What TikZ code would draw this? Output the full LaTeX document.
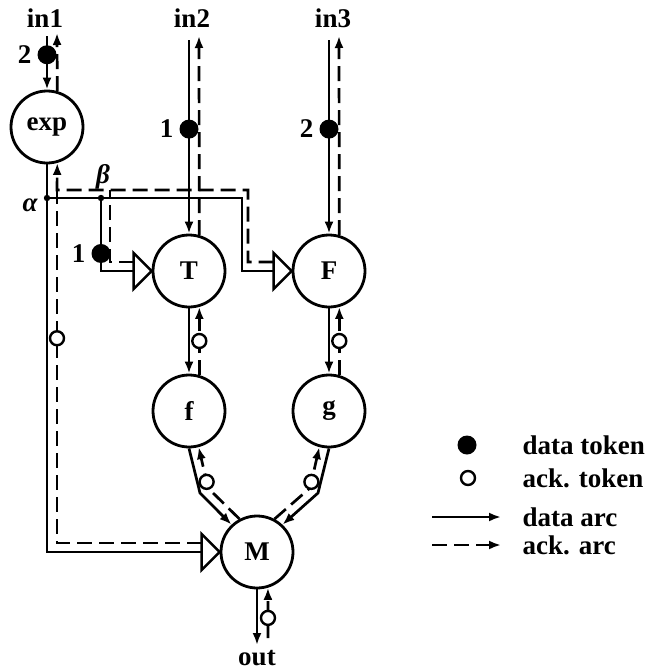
\documentclass[tikz,border=0pt]{standalone}
\usepackage{fontspec}
\setmainfont{Liberation Serif}
\usetikzlibrary{arrows.meta,calc}

\tikzset{
  proc/.style={circle, draw, line width=2.8pt, minimum size=72pt, inner sep=0pt},
  data/.style={line width=2.7pt},
  ack/.style={line width=2.7pt, dash pattern=on 15pt off 7pt},
  dtok/.style={circle, fill, minimum size=19pt, inner sep=0pt},
  atok/.style={circle, draw, fill=white, line width=2.4pt, minimum size=14pt, inner sep=0pt, solid},
}
\newcommand\trig[1]{\draw[line width=2.6pt, fill=white] (#1.west) -- ++(-18,-18) -- ++(0,36) -- cycle;}

\begin{document}
\begin{tikzpicture}[x=1pt, y=-1pt, font=\fontsize{27}{30}\selectfont\bfseries, >={Latex[length=12pt,width=9pt]}]
\useasboundingbox (0,0) rectangle (647,672);

% actors
\node[proc] (exp) at (47,127) {exp};
\node[proc] (T) at (189,271) {T};
\node[proc] (F) at (329,271) {F};
\node[proc] (f) at (189,411) {f};
\node[proc] (g) at (329,411) {g};
\node[proc] (M) at (257,552) {M};

% names of the arcs
\node (in1) at (45,18) {in1};
\node (in2) at (192,18) {in2};
\node (in3) at (333,18) {in3};
\node (out) at (257,658) {out};
\node (al) at (30,205) {\itshape α};
\node (be) at (103,177) {\itshape β};

% free ends and corners
\coordinate (in1d) at (47,36);
\coordinate (in1a) at (57,33);
\coordinate (in2d) at (189,40);
\coordinate (in2a) at (199,36);
\coordinate (in3d) at (329,40);
\coordinate (in3a) at (339,36);
\coordinate (outd) at (257,645);
\coordinate (outa) at (268,638);
\coordinate (alpha) at (47,198);
\coordinate (beta) at (101,198);
\coordinate (Fk) at (242,198);
\coordinate (ackA) at (57,190);
\coordinate (ackT) at (110,190);
\coordinate (ackF) at (248,190);
\coordinate (fd) at (200,493);
\coordinate (fa) at (208,488);
\coordinate (gd) at (318,493);
\coordinate (ga) at (310,488);

% trigger ports
\trig{T}
\trig{F}
\trig{M}
\coordinate (Tp) at ($(T.west)+(-18,0)$);
\coordinate (Fp) at ($(F.west)+(-18,0)$);
\coordinate (Mp) at ($(M.west)+(-18,0)$);

% data arcs
\draw[data,->] (in1d) -- node[dtok, pos=0.35, label=left:2] {} (exp.north);
\draw[data,->] (in2d) -- node[dtok, pos=0.46, label=left:1] {} (T.north);
\draw[data,->] (in3d) -- node[dtok, pos=0.46, label=left:2] {} (F.north);
\draw[data] (exp.south) -- (alpha) -- (beta) -- (Fk) |- (Fp);
\draw[data] (beta) |- node[dtok, pos=0.38, label=left:1] {} (Tp);
\draw[data] (alpha) |- (Mp);
\draw[data,->] (T.south) -- (f.north);
\draw[data,->] (F.south) -- (g.north);
\draw[data,->] (f.south) -- (fd) -- (M.133);
\draw[data,->] (g.south) -- (gd) -- (M.47);
\draw[data,->] (M.south) -- (outd);
\fill (alpha) circle (3.2);
\fill (beta) circle (3.2);

% ack arcs
\draw[ack,->] (exp.74) -- (in1a);
\draw[ack,->] (T.74) -- (in2a);
\draw[ack,->] (F.74) -- (in3a);
\draw[ack,->] ($(Fp)+(0,-9)$) -| (ackF) -- (ackA) -- (exp.-74);
\draw[ack] ($(Tp)+(0,-9)$) -| (ackT);
\draw[ack] ($(Mp)+(0,-9)$) -| node[atok, pos=0.79] {} (ackA);
\draw[ack,->] (f.74) -- node[atok, pos=0.5] {} (T.-74);
\draw[ack,->] (g.74) -- node[atok, pos=0.5] {} (F.-74);
\draw[ack,->] (M.118) -- (fa) -- node[atok, pos=0.15] {} (f.-75);
\draw[ack,->] (M.62) -- (ga) -- node[atok, pos=0.15] {} (g.-105);
\draw[ack,->] (outa) -- node[atok, pos=0.4] {} (M.-73);

% legend
\node[dtok] (ldt) at (467,445) {};
\node[anchor=west] (tdt) at (519,445) {data token};
\node[atok] (lat) at (468,478) {};
\node[anchor=west] (tat) at (519,478) {ack. token};
\node[anchor=west] (tda) at (519,517) {data arc};
\node[anchor=west] (taa) at (519,545) {ack. arc};
\coordinate (lda) at (432,517);
\coordinate (laa) at (432,545);
\draw[data,->] (lda) -- ([xshift=-18pt]tda.west);
\draw[ack,->] (laa) -- ([xshift=-18pt]taa.west);
\end{tikzpicture}
\end{document}
